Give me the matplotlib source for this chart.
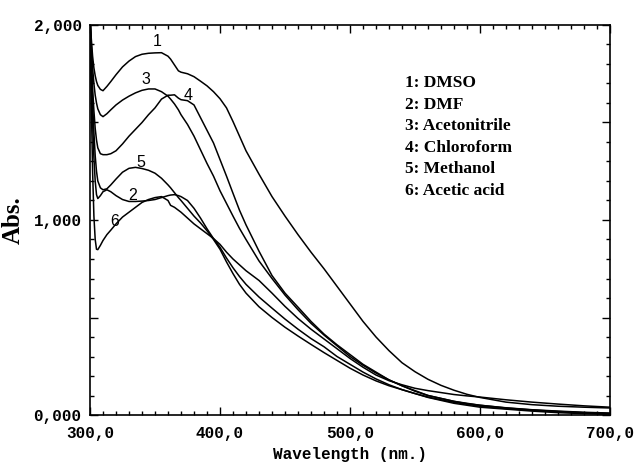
import matplotlib
matplotlib.use("Agg")
import matplotlib.pyplot as plt
from matplotlib.font_manager import FontProperties
from matplotlib.ticker import MultipleLocator, FixedLocator, FixedFormatter

wavelength = [300, 301, 302, 303, 304, 305, 306, 308, 310, 313, 316, 320, 325, 330, 335, 340,
              345, 350, 355, 360, 362, 365, 368, 370, 375, 380, 385, 390, 395, 400, 405, 410,
              415, 420, 430, 440, 450, 460, 470, 480, 490, 500, 510, 520, 530, 540, 550, 560,
              570, 580, 590, 600, 620, 640, 660, 680, 700]

dmso = [2.05, 1.93, 1.84, 1.78, 1.74, 1.71, 1.69, 1.67, 1.663, 1.685, 1.71, 1.745, 1.785, 1.815, 1.838, 1.85,
        1.855, 1.857, 1.858, 1.84, 1.825, 1.795, 1.765, 1.758, 1.75, 1.735, 1.712, 1.688, 1.658, 1.622, 1.575, 1.505,
        1.43, 1.355, 1.235, 1.12, 1.02, 0.925, 0.835, 0.75, 0.66, 0.57, 0.48, 0.40, 0.33, 0.268, 0.222, 0.183,
        0.152, 0.127, 0.106, 0.09, 0.066, 0.053, 0.045, 0.04, 0.036]

dmf = [2.05, 1.75, 1.50, 1.32, 1.20, 1.13, 1.11, 1.125, 1.145, 1.155, 1.145, 1.125, 1.105, 1.095, 1.095, 1.097,
       1.10, 1.105, 1.115, 1.125, 1.128, 1.13, 1.125, 1.12, 1.10, 1.06, 1.01, 0.955, 0.905, 0.86, 0.805, 0.755,
       0.71, 0.67, 0.605, 0.548, 0.492, 0.44, 0.392, 0.35, 0.30, 0.26, 0.22, 0.185, 0.155, 0.13, 0.11, 0.092,
       0.078, 0.065, 0.055, 0.045, 0.033, 0.024, 0.017, 0.011, 0.006]

acetonitrile = [2.05, 1.90, 1.78, 1.70, 1.64, 1.60, 1.57, 1.54, 1.53, 1.545, 1.565, 1.59, 1.615, 1.635, 1.652, 1.665,
                1.672, 1.672, 1.658, 1.635, 1.62, 1.595, 1.565, 1.54, 1.49, 1.43, 1.36, 1.29, 1.225, 1.15, 1.085, 1.02,
                0.957, 0.90, 0.79, 0.70, 0.615, 0.54, 0.47, 0.41, 0.355, 0.30, 0.255, 0.215, 0.18, 0.15, 0.122, 0.10,
                0.085, 0.07, 0.058, 0.05, 0.037, 0.027, 0.02, 0.014, 0.01]

chloroform = [2.05, 1.85, 1.68, 1.56, 1.47, 1.41, 1.37, 1.34, 1.335, 1.335, 1.34, 1.355, 1.39, 1.43, 1.465, 1.50,
              1.54, 1.575, 1.62, 1.64, 1.64, 1.642, 1.625, 1.617, 1.612, 1.59, 1.525, 1.46, 1.395, 1.31, 1.225, 1.137,
              1.05, 0.975, 0.84, 0.715, 0.625, 0.553, 0.48, 0.415, 0.36, 0.31, 0.26, 0.22, 0.18, 0.15, 0.125, 0.10,
              0.085, 0.07, 0.06, 0.05, 0.036, 0.026, 0.018, 0.012, 0.008]

methanol = [2.05, 1.80, 1.60, 1.45, 1.33, 1.25, 1.20, 1.165, 1.155, 1.16, 1.18, 1.21, 1.245, 1.265, 1.27, 1.264,
            1.255, 1.24, 1.214, 1.18, 1.165, 1.14, 1.115, 1.10, 1.06, 1.02, 0.985, 0.945, 0.90, 0.85, 0.785, 0.725,
            0.67, 0.625, 0.555, 0.50, 0.45, 0.405, 0.362, 0.32, 0.28, 0.24, 0.205, 0.175, 0.15, 0.13, 0.11, 0.09,
            0.075, 0.06, 0.05, 0.04, 0.03, 0.02, 0.012, 0.007, 0.003]

acetic_acid = [2.05, 1.60, 1.25, 1.02, 0.90, 0.85, 0.848, 0.87, 0.895, 0.925, 0.948, 0.98, 1.015, 1.04, 1.065, 1.09,
               1.105, 1.115, 1.12, 1.10, 1.075, 1.065, 1.05, 1.04, 1.01, 0.98, 0.955, 0.93, 0.905, 0.875, 0.835, 0.80,
               0.77, 0.74, 0.69, 0.625, 0.557, 0.495, 0.44, 0.39, 0.34, 0.29, 0.245, 0.205, 0.176, 0.155, 0.137, 0.125,
               0.115, 0.105, 0.098, 0.092, 0.078, 0.066, 0.056, 0.047, 0.04]

series = [dmso, dmf, acetonitrile, chloroform, methanol, acetic_acid]
curve_labels = ["1", "2", "3", "4", "5", "6"]
label_pos = [(351.5, 1.913), (333, 1.128), (343, 1.718), (375.5, 1.64), (339, 1.297), (319, 0.99)]
legend_lines = ["1: DMSO", "2: DMF", "3: Acetonitrile", "4: Chloroform", "5: Methanol", "6: Acetic acid"]

x_ticks = [300, 400, 500, 600, 700]
x_ticklabels = ["300,0", "400,0", "500,0", "600,0", "700,0"]
y_ticks = [0, 0.5, 1.0, 1.5, 2.0]
y_ticklabels = ["0,000", "", "1,000", "", "2,000"]

fig = plt.figure(figsize=(6.36, 4.65), dpi=100)
ax = fig.add_axes([90/636, 50/465, 520/636, 390/465])

for s in series:
    ax.plot(wavelength, s, color="black", lw=1.1)

for lab, (lx, ly) in zip(curve_labels, label_pos):
    ax.text(lx, ly, lab, fontsize=11.5, family="Liberation Sans", ha="center", va="center", color="black")

for i, line in enumerate(legend_lines):
    ax.text((405 - 90)/520, 1 - (83 + 21.6*i - 25)/390, line, transform=ax.transAxes,
            fontsize=12.5, family="Liberation Serif", weight="bold", ha="left", va="center")

ax.set_xlim(300, 700)
ax.set_ylim(0, 2.0)

mono = dict(family="Liberation Mono", weight="bold", size=11.5)
ax.xaxis.set_major_locator(FixedLocator(x_ticks))
ax.xaxis.set_major_formatter(FixedFormatter(x_ticklabels))
ax.xaxis.set_minor_locator(MultipleLocator(10))
ax.yaxis.set_major_locator(FixedLocator(y_ticks))
ax.yaxis.set_major_formatter(FixedFormatter(y_ticklabels))
ax.yaxis.set_minor_locator(MultipleLocator(0.1))
for lbl in ax.get_xticklabels() + ax.get_yticklabels():
    lbl.set_fontproperties(FontProperties(**mono))

ax.tick_params(which="both", direction="in", top=True, right=True, width=1.0)
ax.tick_params(which="major", length=6)
ax.tick_params(axis="x", which="major", pad=8)
ax.tick_params(axis="y", which="major", pad=6)
ax.tick_params(which="minor", length=3)
for sp in ax.spines.values():
    sp.set_linewidth(1.2)

ax.set_xlabel("Wavelength (nm.)", fontproperties=FontProperties(**mono), labelpad=4)
ax.set_ylabel("Abs.", family="Liberation Serif", weight="bold", fontsize=18, labelpad=6)

fig.savefig("out.png", dpi=100)
